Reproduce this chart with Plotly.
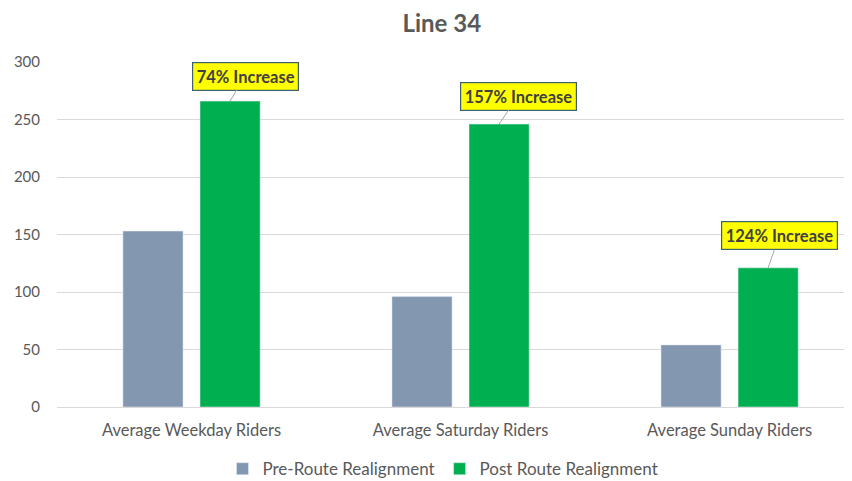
import plotly.graph_objects as go

kategorije = ["Average Weekday Riders", "Average Saturday Riders", "Average Sunday Riders"]
pre_route = [153, 96, 54]
post_route = [266, 246, 121]
oznake = ["74% Increase", "157% Increase", "124% Increase"]

# odmiki oznak (px) od vrha stolpca
oznake_ax = [15, 19, 11]
oznake_ay = [-25, -28, -32]

bargap = 0.427
siva = "#595959"

fig = go.Figure()
fig.add_trace(go.Bar(x=list(range(len(kategorije))), y=pre_route, name="Pre-Route Realignment",
                     marker_color="#8497B0"))
fig.add_trace(go.Bar(x=list(range(len(kategorije))), y=post_route, name="Post Route Realignment",
                     marker_color="#00B050"))

# center drugega stolpca v skupini
zamik = (1 - bargap) / 4
for i, (txt, v) in enumerate(zip(oznake, post_route)):
    fig.add_annotation(
        x=i + zamik, y=v, xref="x", yref="y",
        text="<b>" + txt + "</b>",
        showarrow=True, arrowhead=0, arrowwidth=1, arrowcolor="#a6a6a6",
        ax=oznake_ax[i], ay=oznake_ay[i],
        bgcolor="#FFFF00", bordercolor="#3d5f70", borderwidth=1.2, borderpad=3.5,
        font=dict(family="Lato", size=16.5, color="#404040"),
    )

# stran ima 8px roba, zato je slika nekoliko manjsa
fig.update_layout(
    width=844, height=473,
    title=dict(text="<b>Line 34</b>", x=0.514, xanchor="center", y=0.966, yanchor="middle",
               font=dict(family="Lato", size=24, color=siva)),
    barmode="group", bargap=bargap, bargroupgap=0.22,
    margin=dict(l=49, r=0, t=54, b=74),
    plot_bgcolor="#ffffff", paper_bgcolor="#ffffff",
    font=dict(family="Lato", size=14, color=siva),
    legend=dict(orientation="h", x=0.4855, xanchor="center", xref="paper",
                y=0.025, yanchor="middle", yref="container",
                font=dict(family="Lato", size=17, color=siva), itemwidth=30,
                traceorder="normal"),
    xaxis=dict(tickmode="array", tickvals=list(range(len(kategorije))), ticktext=kategorije,
               range=[-0.5, 2.455], showgrid=False, showline=True, linecolor="#d9d9d9",
               ticklabelstandoff=8, tickfont=dict(size=16.5), automargin=False),
    yaxis=dict(range=[0, 300], dtick=50, gridcolor="#d9d9d9", zeroline=False,
               ticklabelstandoff=16, tickfont=dict(size=15), automargin=False),
)

fig.write_html("out.html")
